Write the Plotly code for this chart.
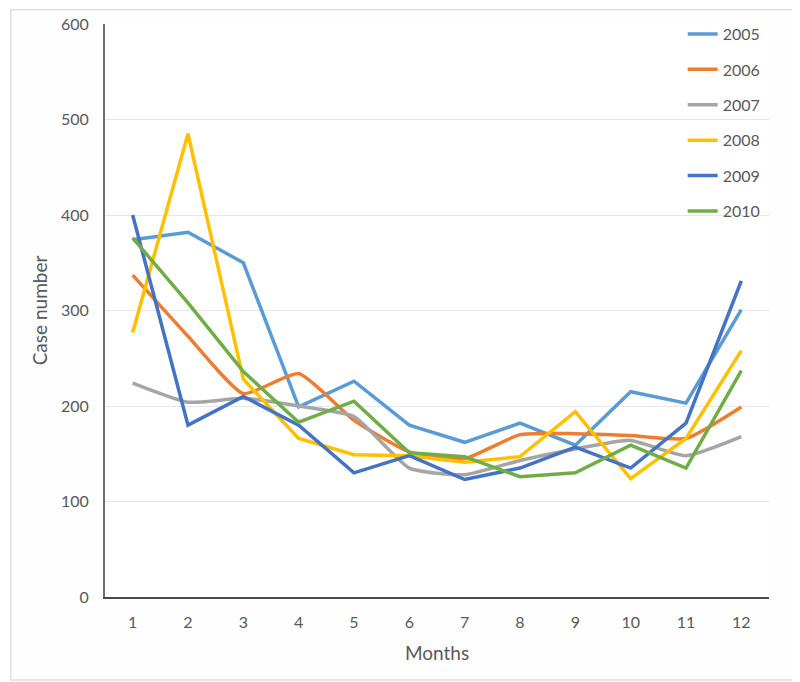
import plotly.graph_objects as go

months = list(range(1, 13))
years = ["2005", "2006", "2007", "2008", "2009", "2010"]
cases_2005 = [374, 382, 350, 199, 226, 180, 162, 182, 159, 215, 203, 301]
cases_2006 = [337, 273, 213, 234, 185, 152, 145, 170, 171, 169, 166, 199]
cases_2007 = [224, 204, 208, 200, 189, 135, 128, 143, 155, 164, 148, 168]
cases_2008 = [277, 485, 228, 166, 149, 148, 141, 147, 194, 124, 166, 258]
cases_2009 = [400, 180, 210, 180, 130, 148, 123, 135, 157, 135, 182, 331]
cases_2010 = [376, 308, 236, 183, 205, 151, 147, 126, 130, 159, 135, 237]
series = [cases_2005, cases_2006, cases_2007, cases_2008, cases_2009, cases_2010]
colors = ["#5B9BD5", "#ED7D31", "#A5A5A5", "#FFC000", "#4472C4", "#70AD47"]
shapes_line = ["linear", "spline", "spline", "linear", "linear", "linear"]
smooth = [0, 0.5, 0.5, 0, 0, 0]

fig = go.Figure()
for yr, vals, c, sh, sm in zip(years, series, colors, shapes_line, smooth):
    line = dict(color=c, width=3.5, shape=sh)
    if sh == "spline":
        line["smoothing"] = sm
    fig.add_trace(go.Scatter(x=months, y=vals, mode="lines", name=yr,
                             legendgroup=yr, line=line))

txt = "#595959"
fig.update_layout(
    width=792, height=674,
    margin=dict(l=97, r=31, t=16, b=85, autoexpand=False),
    paper_bgcolor="#FEFEFE", plot_bgcolor="#FFFFFF",
    font=dict(family="Lato, Open Sans, sans-serif", size=16, color=txt),
    legend=dict(x=0.870, y=0.9866, xanchor="left", yanchor="top",
                yref="container",
                bgcolor="rgba(0,0,0,0)", tracegroupgap=11.6,
                font=dict(size=16, color=txt)),
    xaxis=dict(range=[0.5, 12.5], tickmode="array", tickvals=months,
               ticktext=[str(m) for m in months], showgrid=False,
               showline=True, linecolor="#4A4A4A", linewidth=2,
               ticks="", ticklabelstandoff=10, automargin=False,
               title=dict(text="Months", standoff=16), zeroline=False),
    yaxis=dict(range=[0, 600], tickvals=[0, 100, 200, 300, 400, 500, 600],
               showgrid=True, gridcolor="#E4E8EC", gridwidth=1,
               showline=True, linecolor="#6E6E6E", linewidth=2,
               ticks="", ticklabelstandoff=11, zeroline=False, automargin=False,
               title=dict(text="Case number", standoff=8)),
    shapes=[dict(type="rect", xref="paper", yref="paper",
                 x0=-0.142, x1=1.04, y0=-0.145, y1=1.025,
                 line=dict(color="#E0E0E0", width=1.5))],
)
fig.write_html("out.html")
